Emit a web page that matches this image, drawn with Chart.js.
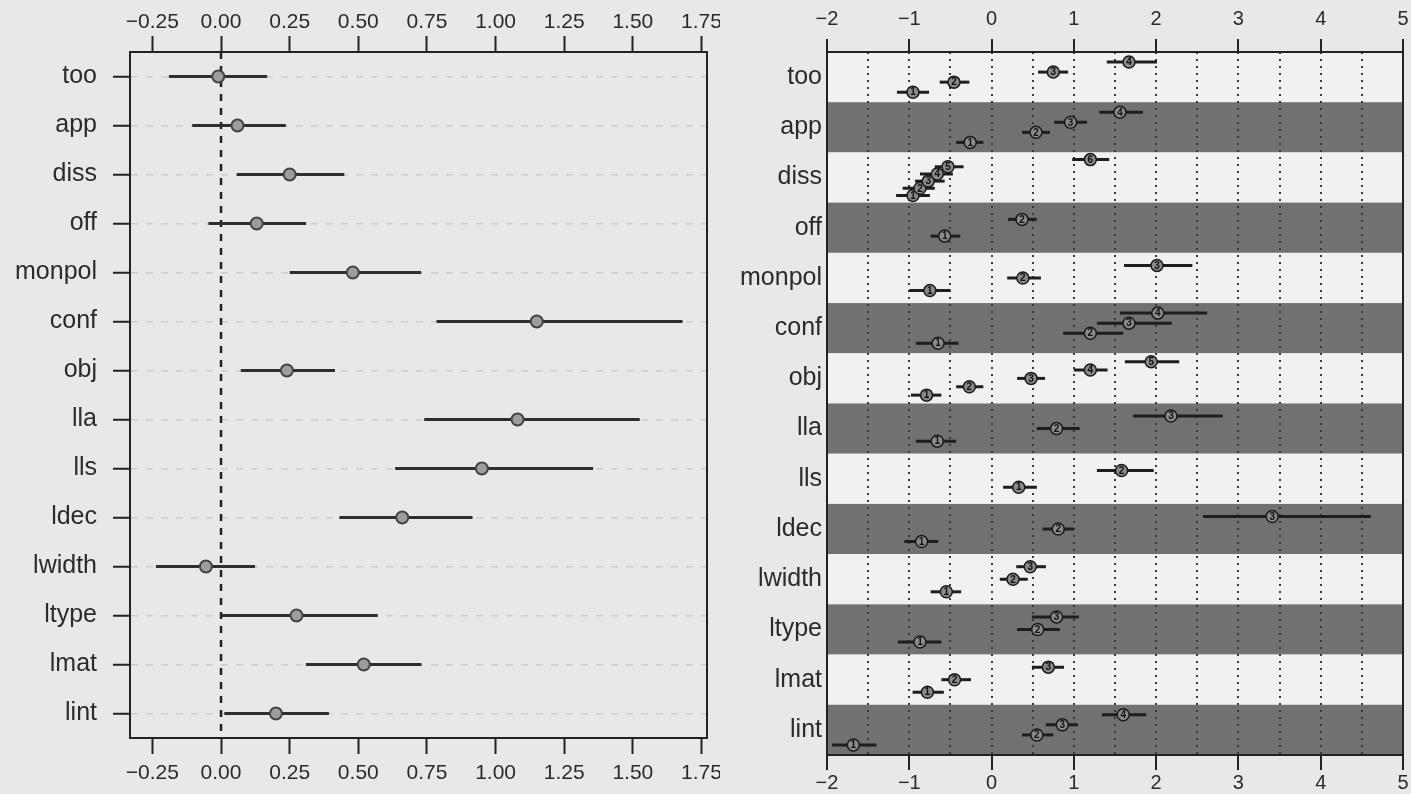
<!DOCTYPE html>
<html>
<head>
<meta charset="utf-8">
<script src="https://cdn.jsdelivr.net/npm/chart.js@4.4.0/dist/chart.umd.min.js"></script>
<style>
    html, body { margin: 0; padding: 0; background: #e8e8e8; }
    #leftChart { position: absolute; left: 0; top: 0; }
    #rightChart { position: absolute; left: 720px; top: 0; }
</style>
</head>
<body>
<canvas id="leftChart" width="720" height="794"></canvas>
<canvas id="rightChart" width="691" height="794"></canvas>
<script>
// Dot plot data (left panel)
const categories = ['too', 'app', 'diss', 'off', 'monpol', 'conf', 'obj', 'lla', 'lls', 'ldec', 'lwidth', 'ltype', 'lmat', 'lint'];
const leftEst  = [-0.01, 0.06, 0.25, 0.13, 0.48, 1.15, 0.24, 1.08, 0.95, 0.66, -0.055, 0.275, 0.52, 0.20];
const leftLow  = [-0.19, -0.105, 0.057, -0.046, 0.25, 0.785, 0.072, 0.74, 0.634, 0.431, -0.237, 0.0, 0.309, 0.012];
const leftHigh = [0.168, 0.236, 0.449, 0.31, 0.729, 1.681, 0.415, 1.525, 1.355, 0.916, 0.124, 0.571, 0.73, 0.393];
const leftTicks = [-0.25, 0, 0.25, 0.5, 0.75, 1, 1.25, 1.5, 1.75];

// Per-category estimates (right panel), point 1..k from bottom to top
const rightEst = [
    [-0.955, -0.457, 0.75, 1.67],
    [-0.26, 0.54, 0.96, 1.56],
    [-0.955, -0.87, -0.77, -0.66, -0.53, 1.20],
    [-0.57, 0.37],
    [-0.75, 0.38, 2.01],
    [-0.65, 1.20, 1.67, 2.02],
    [-0.79, -0.27, 0.48, 1.20, 1.94],
    [-0.66, 0.79, 2.18],
    [0.33, 1.58],
    [-0.85, 0.81, 3.41],
    [-0.55, 0.26, 0.47],
    [-0.87, 0.56, 0.79],
    [-0.78, -0.45, 0.69],
    [-1.68, 0.55, 0.86, 1.60]
];
const rightLow = [
    [-1.15, -0.63, 0.565, 1.40],
    [-0.43, 0.37, 0.76, 1.31],
    [-1.16, -1.08, -0.93, -0.87, -0.69, 0.98],
    [-0.74, 0.20],
    [-1.0, 0.19, 1.61],
    [-0.92, 0.87, 1.28, 1.56],
    [-0.98, -0.43, 0.31, 1.0, 1.62],
    [-0.92, 0.55, 1.72],
    [0.14, 1.28],
    [-1.06, 0.62, 2.57],
    [-0.74, 0.10, 0.30],
    [-1.14, 0.31, 0.49],
    [-0.96, -0.61, 0.49],
    [-1.94, 0.37, 0.66, 1.34]
];
const rightHigh = [
    [-0.76, -0.27, 0.93, 2.01],
    [-0.10, 0.71, 1.16, 1.84],
    [-0.75, -0.69, -0.57, -0.47, -0.34, 1.43],
    [-0.38, 0.55],
    [-0.50, 0.60, 2.44],
    [-0.40, 1.60, 2.19, 2.62],
    [-0.61, -0.10, 0.65, 1.41, 2.28],
    [-0.43, 1.07, 2.81],
    [0.55, 1.97],
    [-0.65, 1.0, 4.61],
    [-0.37, 0.44, 0.66],
    [-0.61, 0.83, 1.06],
    [-0.58, -0.25, 0.88],
    [-1.40, 0.75, 1.05, 1.88]
];

Chart.defaults.font.family = '"Liberation Sans", Arial, sans-serif';
Chart.defaults.color = '#2b2b2b';

const minus = v => String(v).replace('-', '\u2212');

// Frame around the plot area
const framePlugin = {
    id: 'frame',
    afterDraw(chart) {
        const { ctx, chartArea: a } = chart;
        ctx.save();
        ctx.strokeStyle = '#222';
        ctx.lineWidth = 2;
        ctx.strokeRect(a.left, a.top, a.right - a.left, a.bottom - a.top);
        ctx.restore();
    }
};

// fixed axis height, no extra side padding for edge labels
const fixHeight = h => s => {
    s.height = h;
    s.paddingLeft = 0;
    s.paddingRight = 0;
};

// ---- Left panel ----
const leftDatasets = [];
leftDatasets.push({
    type: 'scatter',
    data: leftEst.map((v, i) => ({ x: v, y: i })),
    pointRadius: 6,
    pointHoverRadius: 6,
    backgroundColor: '#9d9d9d',
    borderColor: '#444',
    borderWidth: 2,
    order: 0
});
categories.forEach((c, i) => {
    leftDatasets.push({
        type: 'line',
        data: [{ x: leftLow[i], y: i }, { x: leftHigh[i], y: i }],
        borderColor: '#2e2e2e',
        borderWidth: 3,
        pointRadius: 0,
        showLine: true,
        order: 1
    });
});
leftDatasets.push({
    type: 'line',
    data: [{ x: 0, y: -0.5 }, { x: 0, y: 13.5 }],
    borderColor: '#222',
    borderWidth: 2.5,
    borderDash: [7, 7],
    pointRadius: 0,
    showLine: true,
    order: 2
});

function leftXAxis(position, pad, height) {
    return {
        type: 'linear',
        position: position,
        min: -0.3315,
        max: 1.77,
        afterBuildTicks: s => { s.ticks = leftTicks.map(v => ({ value: v })); },
        ticks: {
            autoSkip: false,
            maxRotation: 0,
            padding: pad,
            font: { size: 21 },
            callback: v => minus(v.toFixed(2))
        },
        grid: { drawOnChartArea: false, tickLength: 16, tickColor: '#222', tickWidth: 2 },
        border: { color: '#222', width: 2 },
        afterFit: fixHeight(height)
    };
}

new Chart(document.getElementById('leftChart'), {
    type: 'scatter',
    data: { datasets: leftDatasets },
    plugins: [framePlugin],
    options: {
        responsive: false,
        animation: false,
        layout: { padding: { right: 13, top: 0, bottom: 0, left: 0 } },
        plugins: { legend: { display: false }, tooltip: { enabled: false } },
        scales: {
            x: leftXAxis('bottom', 7, 56),
            xTop: leftXAxis('top', 1, 52),
            y: {
                type: 'linear',
                reverse: true,
                min: -0.5,
                max: 13.5,
                afterBuildTicks: s => { s.ticks = categories.map((c, i) => ({ value: i })); },
                ticks: {
                    autoSkip: false,
                    padding: 16,
                    font: { size: 25 },
                    callback: (v, i) => categories[i]
                },
                grid: { color: '#cdcdcd', lineWidth: 1.5, tickLength: 17, tickColor: '#222', tickWidth: 2 },
                border: { color: '#222', width: 2, dash: [7, 8] },
                afterFit: s => { s.width = 130; }
            }
        }
    }
});

// ---- Right panel ----
const rightPoints = [];
const rightDatasets = [];
rightEst.forEach((vals, i) => {
    const k = vals.length;
    vals.forEach((v, j) => {
        const y = i + 1 - (j + 1) / (k + 1);
        rightPoints.push({ x: v, y: y, label: String(j + 1) });
        rightDatasets.push({
            type: 'line',
            data: [{ x: rightLow[i][j], y: y }, { x: rightHigh[i][j], y: y }],
            borderColor: '#1e1e1e',
            borderWidth: 3,
            pointRadius: 0,
            showLine: true,
            order: 1
        });
    });
});
rightDatasets.unshift({
    type: 'scatter',
    data: rightPoints,
    pointRadius: 6,
    pointHoverRadius: 6,
    backgroundColor: '#8a8a8a',
    borderColor: '#1a1a1a',
    borderWidth: 1.5,
    order: 0
});

// Alternating bands behind everything
const bandPlugin = {
    id: 'bands',
    beforeDraw(chart) {
        const { ctx, chartArea: a, scales: { y } } = chart;
        ctx.save();
        categories.forEach((c, i) => {
            const y0 = y.getPixelForValue(i);
            const y1 = y.getPixelForValue(i + 1);
            ctx.fillStyle = i % 2 ? '#717171' : '#f1f1f1';
            ctx.fillRect(a.left, y0, a.right - a.left, y1 - y0);
        });
        ctx.restore();
    }
};

// Number inside each circle
const numberPlugin = {
    id: 'numbers',
    afterDatasetsDraw(chart) {
        const { ctx } = chart;
        const meta = chart.getDatasetMeta(0);
        ctx.save();
        ctx.font = 'bold 10px "Liberation Sans", Arial, sans-serif';
        ctx.fillStyle = '#111';
        ctx.textAlign = 'center';
        ctx.textBaseline = 'middle';
        meta.data.forEach((el, idx) => {
            ctx.fillText(rightPoints[idx].label, el.x, el.y + 0.5);
        });
        ctx.restore();
    }
};

const intTick = ctx => Number.isInteger(ctx.tick.value) ? '#222' : 'rgba(0,0,0,0)';

function rightXAxis(position, pad, height, tickLen, onArea) {
    return {
        type: 'linear',
        position: position,
        min: -2,
        max: 5,
        ticks: {
            stepSize: 0.5,
            autoSkip: false,
            maxRotation: 0,
            includeBounds: false,
            padding: pad,
            font: { size: 20 },
            callback: v => Number.isInteger(v) ? minus(v) : ''
        },
        grid: {
            drawOnChartArea: onArea,
            color: ctx => (ctx.tick && (ctx.tick.value === -2 || ctx.tick.value === 5)) ? 'rgba(0,0,0,0)' : '#3a3a3a',
            lineWidth: 2,
            tickLength: tickLen,
            tickColor: intTick,
            tickWidth: 2
        },
        border: { color: '#222', width: 2, dash: [2, 5] },
        afterFit: fixHeight(height)
    };
}

new Chart(document.getElementById('rightChart'), {
    type: 'scatter',
    data: { datasets: rightDatasets },
    plugins: [bandPlugin, numberPlugin, framePlugin],
    options: {
        responsive: false,
        animation: false,
        layout: { padding: { right: 8, top: 0, bottom: 0, left: 0 } },
        plugins: { legend: { display: false }, tooltip: { enabled: false } },
        scales: {
            x: rightXAxis('bottom', 1, 39, 15, true),
            xTop: rightXAxis('top', 8, 52, 13, false),
            y: {
                type: 'linear',
                reverse: true,
                min: 0,
                max: 14,
                afterBuildTicks: s => { s.ticks = categories.map((c, i) => ({ value: i + 0.5 })); },
                ticks: {
                    autoSkip: false,
                    padding: 5,
                    font: { size: 25 },
                    callback: (v, i) => categories[i]
                },
                grid: { display: false, drawTicks: false },
                border: { color: '#222', width: 2 },
                afterFit: s => { s.width = 107; }
            }
        }
    }
});
</script>
</body>
</html>
